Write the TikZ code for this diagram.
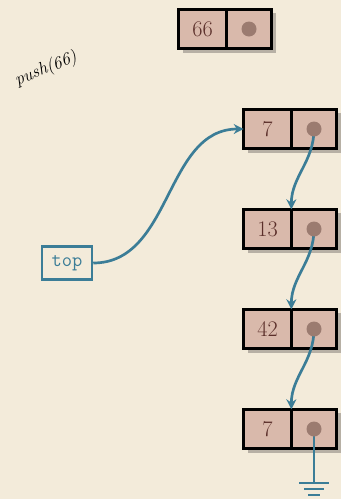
\documentclass[tikz,border=0pt]{standalone}
\usepackage{tikz}
\usetikzlibrary{arrows.meta, positioning, shadows}
\definecolor{paper}{HTML}{F3EBDA}
\definecolor{cell}{HTML}{D9B9AB}
\definecolor{pip}{HTML}{9B7B70}
\definecolor{numink}{HTML}{5B2F2A}
\definecolor{cteal}{HTML}{3B7D97}
\definecolor{cshade}{HTML}{B7B0A5}

\tikzset{
  box/.style={draw=black, line width=0.075cm, fill=cell, outer sep=0pt, inner sep=0pt,
    minimum height=1.18cm, drop shadow={shadow xshift=0.12cm, shadow yshift=-0.12cm, fill=cshade, opacity=1}},
  valcell/.style={box, minimum width=1.43cm, text=numink, font=\fontsize{19}{22}\selectfont},
  ptrcell/.style={box, minimum width=1.36cm},
  link/.style={cteal, line width=0.08cm, -{Stealth[length=0.3cm, width=0.3cm]}},
  wire/.style={cteal, line width=0.08cm},
}

\begin{document}
\begin{tikzpicture}[x=0.03cm, y=-0.03cm]
    % paper
    \fill[paper] (0,0) rectangle (341,499);
    \useasboundingbox (0,0) rectangle (341,499);
    % note to the side
    \node[rotate=22, font=\itshape\fontsize{15}{17}\selectfont, inner sep=0pt] (note) at (46,69) {push(66)};
    % the new cell, not linked yet
    \node[valcell] (newv) at (202.5,29) {66};
    \node[ptrcell, right=0pt of newv] (newp) {};
    % the list
    \foreach \i/\v/\y in {1/7/129, 2/13/229, 3/42/329, 4/7/429}{
      \node[valcell] (n\i v) at (267.5,\y) {\v};
      \node[ptrcell, right=0pt of n\i v] (n\i p) {};
    }
    \node[draw=cteal, line width=0.075cm, text=cteal, font=\ttfamily\fontsize{17}{19}\selectfont,
      minimum width=1.5cm, minimum height=0.98cm, inner sep=0pt] (top) at (67,263) {top};
    \draw[link] (top.east) to[out=0, in=180] (n1v.west);
    \foreach \i/\j in {1/2, 2/3, 3/4}
      \draw[link] (n\i p.center) to[out=-90, in=90] (n\j p.north west);
    % end of the list
    \draw[wire] (n4p.center) -- ++(0,54) coordinate (gnd);
    \draw[wire] ([xshift=-0.45cm]gnd) -- ([xshift=0.45cm]gnd);
    \draw[wire] ([xshift=-0.3cm, yshift=-0.18cm]gnd) -- ([xshift=0.3cm, yshift=-0.18cm]gnd);
    \draw[wire] ([xshift=-0.18cm, yshift=-0.36cm]gnd) -- ([xshift=0.18cm, yshift=-0.36cm]gnd);
    % pointer dots
    \foreach \c in {newp, n1p, n2p, n3p, n4p}
      \fill[pip] (\c.center) circle (0.225cm);
\end{tikzpicture}
\end{document}
